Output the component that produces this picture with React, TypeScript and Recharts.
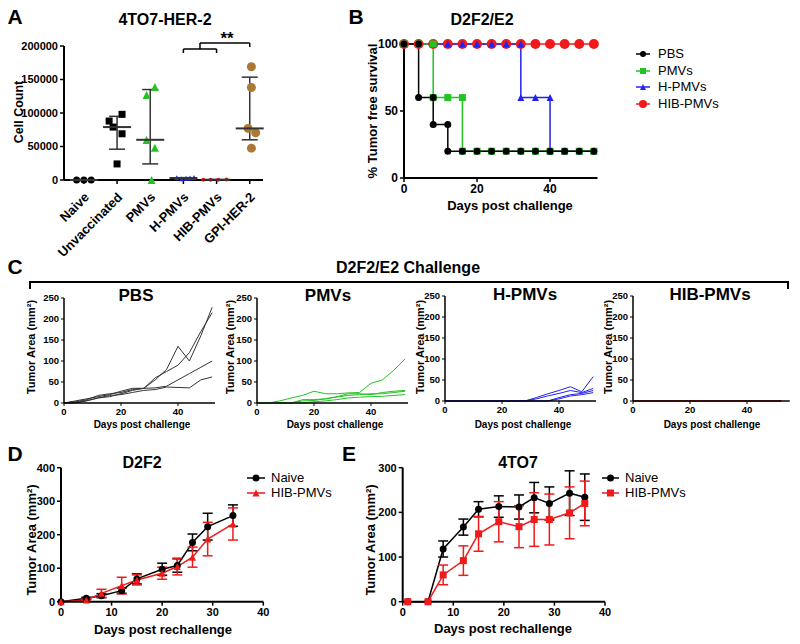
import { ScatterChart, Scatter, LineChart, Line, XAxis, YAxis, ErrorBar, ReferenceLine } from 'recharts'

const FONT = '"Liberation Sans", Arial, Helvetica, sans-serif'

// A: 4TO7-HER-2 cell counts
const groupsA = ['Naive', 'Unvaccinated', 'PMVs', 'H-PMVs', 'HIB-PMVs', 'GPI-HER-2']
const naiveCells = [0, 0, 0]
const unvaccCells = [88000, 98000, 79000, 69000, 24000]
const pmvCells = [127000, 138800, 59700, 48000, 0]
const hpmvCells = [3500, 2000, 2500, 3000, 3800]
const hibCells = [500, 200, 300, 600]
const gpiCells = [169000, 138000, 77000, 70600, 47500]
const medianA = [0, 79000, 60000, 3000, 400, 77000]
const lowA = [0, 46000, 24000, 2000, 100, 60000]
const highA = [0, 95000, 135000, 3500, 600, 153500]
// horizontal spread of dots inside each column (in category units)
const jitterA = [
  [-0.22, 0, 0.22],
  [-0.24, 0.15, -0.12, 0.15, 0],
  [-0.11, 0.14, -0.11, 0.14, 0.04],
  [-0.2, -0.05, 0.08, 0.2, 0.32],
  [-0.4, -0.18, 0.05, 0.3],
  [0.05, 0.05, -0.05, 0.18, 0.05],
]

// B: tumor free survival, [day, %]
const kmPBS = [[0, 100], [4, 100], [4, 60], [8, 60], [8, 40], [12, 40], [12, 20], [16, 20], [20, 20], [24, 20], [28, 20], [32, 20], [36, 20], [40, 20], [44, 20], [48, 20], [52, 20]]
const kmPMV = [[0, 100], [4, 100], [8, 100], [8, 60], [12, 60], [16, 60], [16, 20], [20, 20], [24, 20], [28, 20], [32, 20], [36, 20], [40, 20], [44, 20], [48, 20], [52, 20]]
const kmHPMV = [[0, 100], [4, 100], [8, 100], [12, 100], [16, 100], [20, 100], [24, 100], [28, 100], [32, 100], [32, 60], [36, 60], [40, 60], [40, 20], [44, 20], [48, 20], [52, 20]]
const kmHIB = [[0, 100], [4, 100], [8, 100], [12, 100], [16, 100], [20, 100], [24, 100], [28, 100], [32, 100], [36, 100], [40, 100], [44, 100], [48, 100], [52, 100]]

// C: individual tumor growth
const cDays = [0, 4, 8, 12, 16, 20, 24, 28, 32, 36, 40, 44, 48, 52]
const pbsMice = [
  [0, 3, 8, 18, 22, 25, 32, 35, 55, 80, 135, 100, 160, 228],
  [0, 5, 10, 15, 20, 28, 35, 35, 60, 75, 90, 120, 170, 215],
  [0, 0, 5, 12, 15, 22, 30, 35, 36, 40, 55, 70, 85, 100],
  [0, 2, 6, 12, 18, 20, 25, 30, 32, 38, 37, 36, 55, 62],
]
const pmvMice = [
  [0, 0, 5, 12, 18, 28, 22, 22, 24, 25, 47, 55, 78, 105],
  [0, 0, 0, 0, 8, 8, 10, 15, 22, 22, 20, 25, 28, 30],
  [0, 0, 0, 0, 5, 6, 10, 14, 18, 20, 22, 22, 25, 28],
  [0, 0, 0, 0, 0, 3, 5, 8, 12, 14, 15, 16, 18, 20],
]
const hpmvMice = [
  [0, 0, 0, 0, 0, 0, 0, 0, 8, 17, 25, 34, 22, 58],
  [0, 0, 0, 0, 0, 0, 0, 0, 5, 12, 18, 25, 20, 30],
  [0, 0, 0, 0, 0, 0, 0, 0, 0, 0, 8, 15, 18, 25],
  [0, 0, 0, 0, 0, 0, 0, 0, 0, 0, 5, 12, 15, 20],
]
const hibMice = [
  [0, 0, 0, 0, 0, 0, 0, 0, 0, 0, 0, 0, 0, 0],
  [0, 0, 0, 0, 0, 0, 0, 0, 0, 0, 0, 0, 0, 0],
  [0, 0, 0, 0, 0, 0, 0, 0, 0, 0, 0, 0, 0, 0],
  [0, 0, 0, 0, 0, 0, 0, 0, 0, 0, 0, 0, 0, 0],
]

// D: D2F2 rechallenge
const dDays = [0, 5, 8, 12, 15, 20, 23, 26, 29, 34]
const dNaive = [0, 10, 18, 33, 68, 97, 108, 177, 224, 257]
const dNaiveErr = [0, 3, 6, 8, 15, 18, 20, 25, 40, 32]
const dHib = [0, 5, 25, 48, 65, 85, 105, 133, 187, 232]
const dHibErr = [0, 3, 12, 25, 15, 18, 25, 30, 50, 48]

// E: 4TO7 rechallenge
const eDays = [1, 5, 8, 12, 15, 19, 23, 26, 29, 33, 36]
const eNaive = [0, 0, 118, 167, 207, 213, 212, 233, 220, 243, 234]
const eNaiveErr = [0, 0, 18, 18, 17, 24, 27, 34, 37, 50, 52]
const eHib = [0, 0, 60, 92, 152, 179, 168, 184, 184, 199, 220]
const eHibErr = [0, 0, 22, 33, 39, 45, 47, 60, 57, 58, 50]

const BLACK = '#000'
const GREEN = '#22C322'
const BLUE = '#2323F0'
const RED = '#F01A1A'
const BROWN = '#A87A35'

const axisLine = { stroke: '#000', strokeWidth: 2 }
const tickLine = { stroke: '#000', strokeWidth: 1.5 }
const tickFont = (fs: number) => ({ fontSize: fs, fontWeight: 700, fill: '#000', fontFamily: FONT })

function Txt({ x, y, s, b = true, rot = 0, children }: any) {
  return (
    <div
      style={{
        position: 'absolute', left: x, top: y, transform: `translate(-50%,-50%) rotate(${rot}deg)`,
        fontSize: s, fontWeight: b ? 700 : 400, whiteSpace: 'nowrap', lineHeight: 1, color: '#000',
      }}
    >
      {children}
    </div>
  )
}

// marker shapes
function Mark({ kind, cx, cy, s, fill }: any) {
  if (kind === 'circle') return <circle cx={cx} cy={cy} r={s / 2} fill={fill} />
  if (kind === 'square') return <rect x={cx - s / 2} y={cy - s / 2} width={s} height={s} fill={fill} />
  return <polygon points={`${cx},${cy - s / 2} ${cx + s / 2},${cy + s / 2} ${cx - s / 2},${cy + s / 2}`} fill={fill} />
}
const dotFn = (kind: string, s: number, fill: string) => (p: any) =>
  p.cx == null ? <g key={p.index} /> : <Mark key={p.index} kind={kind} cx={p.cx} cy={p.cy} s={s} fill={fill} />

function Legend({ left, top, gap, rows }: any) {
  return (
    <div style={{ position: 'absolute', left, top }}>
      {rows.map((r: any, i: number) => (
        <div key={i} style={{ position: 'absolute', top: i * gap, left: 0, display: 'flex', alignItems: 'center', whiteSpace: 'nowrap', fontSize: 13, lineHeight: '14px' }}>
          <svg width={r.w} height={12} style={{ marginRight: r.pad }}>
            <line x1={0} x2={r.w} y1={6} y2={6} stroke={r.color} strokeWidth={1.5} />
            <Mark kind={r.kind} cx={r.w / 2} cy={6} s={r.s} fill={r.color} />
          </svg>
          <span>{r.label}</span>
        </div>
      ))}
    </div>
  )
}

function PanelA() {
  const shapes = [
    { vals: naiveCells, kind: 'circle', s: 7, fill: BLACK },
    { vals: unvaccCells, kind: 'square', s: 7, fill: BLACK },
    { vals: pmvCells, kind: 'tri', s: 8, fill: GREEN },
    { vals: hpmvCells, kind: 'tri', s: 5, fill: BLUE },
    { vals: hibCells, kind: 'circle', s: 4, fill: RED },
    { vals: gpiCells, kind: 'circle', s: 9, fill: BROWN },
  ]
  const medians = medianA.map((m, g) => ({ x: g, y: m, err: [m - lowA[g], highA[g] - m] }))
  const RotTick = (p: any) => (
    <g transform={`translate(${p.x + 6},${p.y + 12})`}>
      <text textAnchor="end" transform="rotate(-45)" fontSize={13} fontWeight={700} fill="#000" fontFamily={FONT}>
        {groupsA[p.payload.value]}
      </text>
    </g>
  )
  const br = { stroke: '#000', strokeWidth: 1.5, ifOverflow: 'visible' as const }
  return (
    <div style={{ position: 'absolute', left: 0, top: 0 }}>
      <ScatterChart width={270} height={275} margin={{ top: 46, right: 7, bottom: 0, left: 0 }}>
        <XAxis type="number" dataKey="x" domain={[-0.6, 5.4]} ticks={[0, 1, 2, 3, 4, 5]} interval={0}
          height={95} axisLine={axisLine} tickLine={tickLine} tickSize={4} tick={<RotTick />} />
        <YAxis type="number" dataKey="y" domain={[0, 200000]} ticks={[0, 50000, 100000, 150000, 200000]}
          width={64} axisLine={axisLine} tickLine={tickLine} tickSize={4} tick={tickFont(11)} />
        {shapes.map((sh, g) => (
          <Scatter key={g} data={sh.vals.map((v, i) => ({ x: g + jitterA[g][i], y: v }))} isAnimationActive={false}
            shape={(p: any) => <Mark kind={sh.kind} cx={p.cx} cy={p.cy} s={sh.s} fill={sh.fill} />} />
        ))}
        <Scatter data={medians} isAnimationActive={false}
          shape={(p: any) => <line x1={p.cx - 14} x2={p.cx + 14} y1={p.cy} y2={p.cy} stroke="#333" strokeWidth={2} />}>
          <ErrorBar dataKey="err" direction="y" width={8} stroke="#333" strokeWidth={1.5} />
        </Scatter>
        <ReferenceLine segment={[{ x: 3, y: 195500 }, { x: 4, y: 195500 }]} {...br} />
        <ReferenceLine segment={[{ x: 3, y: 195500 }, { x: 3, y: 189500 }]} {...br} />
        <ReferenceLine segment={[{ x: 4, y: 195500 }, { x: 4, y: 189500 }]} {...br} />
        <ReferenceLine segment={[{ x: 3.5, y: 195500 }, { x: 3.5, y: 204500 }]} {...br} />
        <ReferenceLine segment={[{ x: 3.5, y: 204500 }, { x: 5, y: 204500 }]} {...br} />
        <ReferenceLine segment={[{ x: 5, y: 204500 }, { x: 5, y: 198500 }]} {...br} />
      </ScatterChart>
    </div>
  )
}

function PanelB() {
  const toRows = (a: number[][]) => a.map(([day, v]) => ({ day, v }))
  const series = [
    { data: kmHIB, color: RED, kind: 'circle', s: 10 },
    { data: kmHPMV, color: BLUE, kind: 'tri', s: 7 },
    { data: kmPMV, color: GREEN, kind: 'square', s: 7 },
    { data: kmPBS, color: BLACK, kind: 'circle', s: 7 },
  ]
  return (
    <div style={{ position: 'absolute', left: 340, top: 0 }}>
      <LineChart width={265} height={215} margin={{ top: 44, right: 7.5, bottom: 0, left: 0 }}>
        <XAxis type="number" dataKey="day" domain={[0, 53]} ticks={[0, 20, 40]} height={37}
          axisLine={axisLine} tickLine={tickLine} tickSize={4} tick={tickFont(12)} />
        <YAxis domain={[0, 100]} ticks={[0, 50, 100]} width={64}
          axisLine={axisLine} tickLine={tickLine} tickSize={4} tick={tickFont(12)} />
        {series.map((s, i) => (
          <Line key={i} data={toRows(s.data)} dataKey="v" type="linear" stroke={s.color} strokeWidth={1.5}
            dot={dotFn(s.kind, s.s, s.color)} activeDot={false} isAnimationActive={false} />
        ))}
      </LineChart>
    </div>
  )
}

function Growth({ axisX, top, max, color, mice }: any) {
  const rows = cDays.map((d, i) => {
    const r: any = { day: d }
    mice.forEach((m: number[], k: number) => (r['m' + k] = m[i]))
    return r
  })
  const plotW = max * 2.85
  return (
    <div style={{ position: 'absolute', left: axisX - 50, top: top - 13 }}>
      <LineChart width={50 + plotW + 4} height={145} data={rows} margin={{ top: 13, right: 4, bottom: 0, left: 0 }}>
        <XAxis type="number" dataKey="day" domain={[0, max]} ticks={[0, 20, 40]} height={27}
          axisLine={{ stroke: '#000', strokeWidth: 1.5 }} tickLine={{ stroke: '#000', strokeWidth: 1 }} tickSize={3} tick={tickFont(9.5)} />
        <YAxis domain={[0, 250]} ticks={[0, 50, 100, 150, 200, 250]} width={50}
          axisLine={{ stroke: '#000', strokeWidth: 1.5 }} tickLine={{ stroke: '#000', strokeWidth: 1 }} tickSize={3} tick={tickFont(9.5)} />
        {mice.map((_: any, k: number) => (
          <Line key={k} dataKey={'m' + k} type="linear" stroke={color} strokeWidth={1} dot={false} activeDot={false} isAnimationActive={false} />
        ))}
      </LineChart>
    </div>
  )
}

function Rechallenge({ left, axisW, yMax, yTicks, days, a, aErr, b, bErr, bKind }: any) {
  const rows = days.map((d: number, i: number) => ({ day: d, a: a[i], ae: aErr[i], b: b[i], be: bErr[i] }))
  return (
    <div style={{ position: 'absolute', left, top: 440 }}>
      <LineChart width={axisW + 202.3 + 11.7} height={204} data={rows} margin={{ top: 27.7, right: 11.7, bottom: 0, left: 0 }}>
        <XAxis type="number" dataKey="day" domain={[0, 40]} ticks={[0, 10, 20, 30, 40]} height={42.3}
          axisLine={axisLine} tickLine={tickLine} tickSize={4} tick={tickFont(11)} />
        <YAxis domain={[0, yMax]} ticks={yTicks} width={axisW}
          axisLine={axisLine} tickLine={tickLine} tickSize={4} tick={tickFont(11)} />
        <Line dataKey="a" type="linear" stroke={BLACK} strokeWidth={1.5} dot={dotFn('circle', 7, BLACK)} activeDot={false} isAnimationActive={false}>
          <ErrorBar dataKey="ae" direction="y" width={5} stroke={BLACK} strokeWidth={1.5} />
        </Line>
        <Line dataKey="b" type="linear" stroke={RED} strokeWidth={1.5} dot={dotFn(bKind, 7, RED)} activeDot={false} isAnimationActive={false}>
          <ErrorBar dataKey="be" direction="y" width={5} stroke={RED} strokeWidth={1.5} />
        </Line>
      </LineChart>
    </div>
  )
}

export default function App() {
  const legB = [
    { label: 'PBS', color: BLACK, kind: 'circle', s: 6 },
    { label: 'PMVs', color: GREEN, kind: 'square', s: 6 },
    { label: 'H-PMVs', color: BLUE, kind: 'tri', s: 6 },
    { label: 'HIB-PMVs', color: RED, kind: 'circle', s: 8 },
  ].map((r) => ({ ...r, w: 14, pad: 8 }))
  const legD = [
    { label: 'Naive', color: BLACK, kind: 'circle', s: 7, w: 18, pad: 6 },
    { label: 'HIB-PMVs', color: RED, kind: 'tri', s: 7, w: 18, pad: 6 },
  ]
  const legE = [
    { label: 'Naive', color: BLACK, kind: 'circle', s: 7, w: 17, pad: 6 },
    { label: 'HIB-PMVs', color: RED, kind: 'square', s: 7, w: 17, pad: 6 },
  ]
  return (
    <div style={{ position: 'absolute', left: 0, top: 0, width: 800, height: 644, background: '#fff', fontFamily: FONT, overflow: 'hidden' }}>
      <PanelA />
      <PanelB />
      <Growth axisX={64} top={298} max={53} color="#333" mice={pbsMice} />
      <Growth axisX={257} top={298} max={53} color={GREEN} mice={pmvMice} />
      <Growth axisX={445} top={296} max={53} color={BLUE} mice={hpmvMice} />
      <Growth axisX={633} top={296} max={55} color="#C82020" mice={hibMice} />
      <Rechallenge left={0} axisW={61} yMax={400} yTicks={[0, 100, 200, 300, 400]}
        days={dDays} a={dNaive} aErr={dNaiveErr} b={dHib} bErr={dHibErr} bKind="tri" />
      <Rechallenge left={340} axisW={62.7} yMax={300} yTicks={[0, 100, 200, 300]}
        days={eDays} a={eNaive} aErr={eNaiveErr} b={eHib} bErr={eHibErr} bKind="square" />

      {/* panel letters and titles */}
      <Txt x={15} y={16} s={21}>A</Txt>
      <Txt x={356} y={16} s={21}>B</Txt>
      <Txt x={15} y={266} s={21}>C</Txt>
      <Txt x={15} y={453} s={21}>D</Txt>
      <Txt x={349} y={453} s={21}>E</Txt>
      <Txt x={165} y={20} s={16}>4TO7-HER-2</Txt>
      <Txt x={482} y={20} s={16}>D2F2/E2</Txt>
      <Txt x={227} y={38} s={17}>**</Txt>
      <Txt x={408} y={268} s={16}>D2F2/E2 Challenge</Txt>
      <div style={{ position: 'absolute', left: 29, top: 281, width: 756, height: 6, borderTop: '2px solid #000', borderLeft: '2px solid #000', borderRight: '2px solid #000' }} />
      <Txt x={136} y={295} s={17}>PBS</Txt>
      <Txt x={328} y={295} s={17}>PMVs</Txt>
      <Txt x={525} y={294} s={17}>H-PMVs</Txt>
      <Txt x={710} y={294} s={17}>HIB-PMVs</Txt>
      <Txt x={142} y={463} s={16}>D2F2</Txt>
      <Txt x={518} y={463} s={16}>4TO7</Txt>

      {/* axis titles */}
      <Txt x={19} y={112} s={12.5} rot={-90}>Cell Count</Txt>
      <Txt x={372} y={111} s={13} rot={-90}>% Tumor free survival</Txt>
      <Txt x={510} y={205} s={13}>Days post challenge</Txt>
      <Txt x={31} y={347} s={11} rot={-90}>Tumor Area (mm²)</Txt>
      <Txt x={230} y={347} s={11} rot={-90}>Tumor Area (mm²)</Txt>
      <Txt x={420} y={347} s={11} rot={-90}>Tumor Area (mm²)</Txt>
      <Txt x={608} y={347} s={11} rot={-90}>Tumor Area (mm²)</Txt>
      <Txt x={142} y={425} s={10}>Days post challenge</Txt>
      <Txt x={335} y={425} s={10}>Days post challenge</Txt>
      <Txt x={523} y={425} s={10}>Days post challenge</Txt>
      <Txt x={712} y={425} s={10}>Days post challenge</Txt>
      <Txt x={31} y={540} s={13} rot={-90}>Tumor Area (mm²)</Txt>
      <Txt x={370} y={540} s={13} rot={-90}>Tumor Area (mm²)</Txt>
      <Txt x={163} y={629} s={13}>Days post rechallenge</Txt>
      <Txt x={503} y={628} s={13}>Days post rechallenge</Txt>

      <Legend left={636} top={47} gap={16.7} rows={legB} />
      <Legend left={247} top={471} gap={15} rows={legD} />
      <Legend left={602} top={471} gap={15} rows={legE} />
    </div>
  )
}
